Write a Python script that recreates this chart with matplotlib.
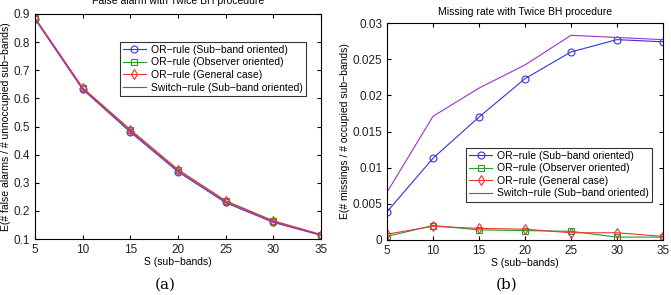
import matplotlib
matplotlib.use("Agg")
import matplotlib.pyplot as plt

# -----------------------------------------------------
# Data
# -----------------------------------------------------
S = [5, 10, 15, 20, 25, 30, 35]

fa_or_sub = [0.883, 0.633, 0.482, 0.340, 0.230, 0.160, 0.114]
fa_or_obs = [0.885, 0.636, 0.486, 0.345, 0.234, 0.163, 0.115]
fa_or_gen = [0.886, 0.638, 0.489, 0.347, 0.236, 0.165, 0.116]
fa_switch = [0.882, 0.632, 0.480, 0.339, 0.229, 0.159, 0.113]

miss_or_sub = [0.0039, 0.0113, 0.0170, 0.0223, 0.0260, 0.0277, 0.0274]
miss_or_obs = [0.0005, 0.0020, 0.0014, 0.0013, 0.0012, 0.0004, 0.0004]
miss_or_gen = [0.0008, 0.0019, 0.0016, 0.0015, 0.0010, 0.0010, 0.0005]
miss_switch = [0.0066, 0.0171, 0.0210, 0.0242, 0.0283, 0.0280, 0.0277]

labels = ["OR\u2212rule (Sub\u2212band oriented)",
          "OR\u2212rule (Observer oriented)",
          "OR\u2212rule (General case)",
          "Switch\u2212rule (Sub\u2212band oriented)"]

plt.rcParams["font.family"] = ["Liberation Sans", "DejaVu Sans"]
plt.rcParams["font.size"] = 7.5

fig = plt.figure(figsize=(6.71, 2.95), dpi=100)
ax1 = fig.add_axes([35 / 671, 1 - 239 / 295, 286 / 671, 225 / 295])
ax2 = fig.add_axes([387 / 671, 1 - 240 / 295, 276 / 671, 217 / 295])


def draw(ax, sub, obs, gen, sw):
    ax.plot(S, sub, color="#3333dd", lw=0.8, marker="o", ms=5, mew=0.8, mfc="none", label=labels[0])
    ax.plot(S, obs, color="#22a022", lw=0.8, marker="s", ms=4, mew=0.8, mfc="none", label=labels[1])
    ax.plot(S, gen, color="#ee3333", lw=0.8, marker="d", ms=5, mew=0.8, mfc="none", label=labels[2])
    ax.plot(S, sw, color="#9933cc", lw=0.8, label=labels[3])
    ax.set_xlim(5, 35)
    ax.set_xticks(S)
    ax.tick_params(direction="in", top=True, right=True, length=3, labelsize=8.5,
                   labelcolor="#222222")
    ax.set_xlabel("S (sub\u2212bands)", fontsize=7.5, labelpad=1)


draw(ax1, fa_or_sub, fa_or_obs, fa_or_gen, fa_switch)
ax1.set_ylim(0.1, 0.9)
ax1.set_yticks([0.1, 0.2, 0.3, 0.4, 0.5, 0.6, 0.7, 0.8, 0.9])
ax1.set_ylabel("E(# false alarms / # unnoccupied sub\u2212bands)", fontsize=7.5, labelpad=2)
ax1.set_title("False alarm with Twice BH procedure", fontsize=7.5, pad=7)
leg1 = ax1.legend(loc="upper right", bbox_to_anchor=(0.965, 0.9), fontsize=7.5,
                  fancybox=False, edgecolor="black", handlelength=2.2,
                  borderpad=0.3, labelspacing=0.25, handletextpad=0.5)
leg1.get_frame().set_linewidth(0.8)

draw(ax2, miss_or_sub, miss_or_obs, miss_or_gen, miss_switch)
ax2.set_ylim(0, 0.03)
ax2.set_yticks([0, 0.005, 0.01, 0.015, 0.02, 0.025, 0.03])
ax2.set_yticklabels(["0", "0.005", "0.01", "0.015", "0.02", "0.025", "0.03"])
ax2.set_ylabel("E(# missings / # occupied sub\u2212bands)", fontsize=7.5, labelpad=2)
ax2.set_title("Missing rate with Twice BH procedure", fontsize=7.5, pad=6)
leg2 = ax2.legend(loc="upper right", bbox_to_anchor=(0.98, 0.45), fontsize=7.5,
                  fancybox=False, edgecolor="black", handlelength=2.2,
                  borderpad=0.3, labelspacing=0.25, handletextpad=0.5)
leg2.get_frame().set_linewidth(0.8)

fig.text(165 / 671, 1 - 285 / 295, "(a)", family="DejaVu Serif", fontsize=11, ha="center", va="center")
fig.text(507 / 671, 1 - 285 / 295, "(b)", family="DejaVu Serif", fontsize=11, ha="center", va="center")

fig.savefig("out.png", dpi=100)
